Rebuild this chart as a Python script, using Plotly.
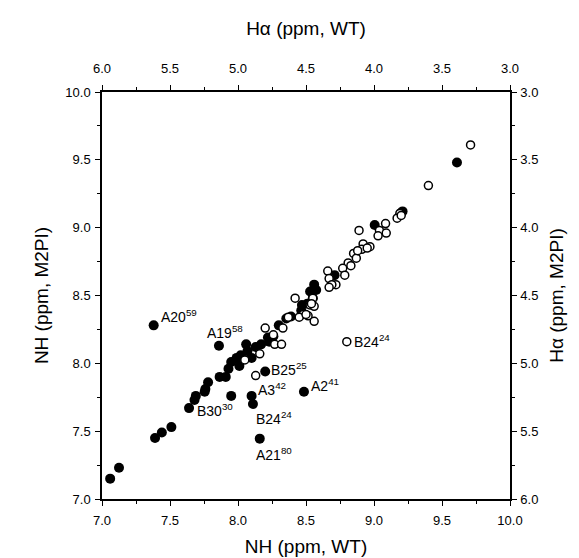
import plotly.graph_objects as go

# NH chemical shifts (filled circles): WT vs M2PI
nh_wt = [7.06, 7.125, 7.39, 7.44, 7.51, 7.38, 7.64, 7.68, 7.69, 7.755, 7.76, 7.78,
         7.865, 7.91, 7.86, 7.93, 7.95, 7.99, 8.01, 7.95, 8.06, 8.07, 8.10, 8.17,
         8.13, 8.22, 8.23, 8.20, 8.10, 8.11, 8.16, 8.485, 8.30, 8.355, 8.39, 8.465,
         8.47, 8.51, 8.55, 8.53, 8.56, 8.575, 8.71, 9.005, 9.20, 9.21, 9.61, 8.02, 8.26]
nh_m2pi = [7.15, 7.23, 7.45, 7.49, 7.53, 8.28, 7.67, 7.73, 7.76, 7.79, 7.81, 7.86,
           7.90, 7.90, 8.13, 7.96, 8.01, 8.04, 7.98, 7.76, 8.14, 8.09, 8.04, 8.14,
           8.12, 8.19, 8.16, 7.94, 7.76, 7.70, 7.445, 7.79, 8.28, 8.33, 8.345, 8.39,
           8.43, 8.44, 8.48, 8.53, 8.58, 8.54, 8.65, 9.02, 9.11, 9.12, 9.48, 8.06, 8.20]

# H-alpha chemical shifts (open circles): WT vs M2PI
ha_wt = [3.29, 3.60, 3.81, 3.83, 3.80, 3.915, 3.96, 3.91, 3.97, 4.11, 4.03, 4.08,
         4.09, 4.15, 4.13, 4.19, 4.17, 4.23, 4.215, 4.34, 4.33, 4.28, 4.31, 4.33,
         4.45, 4.58, 4.47, 4.44, 4.52, 4.485, 4.44, 4.55, 4.63, 4.67, 4.80, 4.74,
         4.73, 4.68, 4.20, 4.84, 4.87, 4.95, 4.46, 4.50, 4.05, 4.12]
ha_m2pi = [3.39, 3.69, 3.895, 3.93, 3.91, 3.97, 4.02, 4.04, 4.06, 4.02, 4.14, 4.12,
           4.16, 4.19, 4.225, 4.26, 4.28, 4.30, 4.35, 4.32, 4.375, 4.42, 4.42, 4.44,
           4.52, 4.52, 4.57, 4.58, 4.64, 4.65, 4.69, 4.66, 4.66, 4.74, 4.74, 4.79,
           4.86, 4.86, 4.84, 4.93, 5.09, 4.975, 4.56, 4.64, 4.15, 4.17]

# Labelled NH residues
nh_labels = ["A20<sup>59</sup>", "A19<sup>58</sup>", "B25<sup>25</sup>", "A3<sup>42</sup>",
             "A2<sup>41</sup>", "B30<sup>30</sup>", "B24<sup>24</sup>", "A21<sup>80</sup>"]
nh_label_x = [7.38, 7.86, 8.20, 8.10, 8.485, 7.95, 8.11, 8.16]
nh_label_y = [8.28, 8.13, 7.94, 7.76, 7.79, 7.76, 7.70, 7.445]
# Labelled H-alpha residue
ha_labels = ["B24<sup>24</sup>"]
ha_label_x = [4.20]
ha_label_y = [4.84]

FONT = "Liberation Sans, Arial, sans-serif"

fig = go.Figure()
fig.add_trace(go.Scatter(
    x=nh_wt, y=nh_m2pi, mode="markers", xaxis="x", yaxis="y",
    marker=dict(size=10, color="black", line=dict(width=0)), showlegend=False))
fig.add_trace(go.Scatter(
    x=ha_wt, y=ha_m2pi, mode="markers", xaxis="x2", yaxis="y2",
    marker=dict(size=8, color="white", line=dict(width=1.5, color="black")),
    showlegend=False))

# label placements: (xanchor, xshift, yshift)
placement = [("left", 5, 9), ("center", 6, 14), ("left", 4, 2), ("left", 4, 7),
             ("left", 5, 7), ("right", 4, -14), ("left", 1, -14), ("left", -6, -15)]
ann = []
for t, x, y, (xa, xs, ys) in zip(nh_labels, nh_label_x, nh_label_y, placement):
    ann.append(dict(x=x, y=y, xref="x", yref="y", text=t, showarrow=False,
                    xanchor=xa, yanchor="middle", xshift=xs, yshift=ys,
                    font=dict(size=14, color="black", family=FONT)))
for t, x, y in zip(ha_labels, ha_label_x, ha_label_y):
    ann.append(dict(x=x, y=y, xref="x2", yref="y2", text=t, showarrow=False,
                    xanchor="left", yanchor="middle", xshift=5, yshift=1,
                    font=dict(size=14, color="black", family=FONT)))


def axis_style(standoff):
    return dict(
        showgrid=False, zeroline=False, showline=True, linecolor="black", linewidth=1.5,
        ticks="outside", ticklen=5, tickwidth=1.3, tickcolor="black", dtick=0.5,
        tickformat=".1f", tickfont=dict(size=13, color="black", family=FONT),
        ticklabelstandoff=standoff,
        minor=dict(ticks="outside", ticklen=3, tickwidth=1, tickcolor="black",
                   dtick=0.25, showgrid=False),
    )


title_font = dict(size=19, color="black", family=FONT)

fig.update_layout(
    width=579, height=558,
    margin=dict(l=94, r=77, t=84, b=61),
    paper_bgcolor="white", plot_bgcolor="white",
    font=dict(family=FONT, color="black"),
    xaxis=dict(range=[7.0, 10.0], tick0=7.0, side="bottom", anchor="y",
               title=dict(text="NH (ppm, WT)", font=title_font, standoff=12),
               **axis_style(4)),
    yaxis=dict(range=[7.0, 10.0], tick0=7.0, side="left", anchor="x",
               title=dict(text="NH (ppm, M2PI)", font=title_font, standoff=12),
               **axis_style(2)),
    xaxis2=dict(range=[6.0, 3.0], tick0=3.0, side="top", anchor="y", overlaying="x",
                title=dict(text="H\u03b1 (ppm, WT)", font=title_font, standoff=20),
                **axis_style(7)),
    yaxis2=dict(range=[6.0, 3.0], tick0=3.0, side="right", anchor="x", overlaying="y",
                title=dict(text="H\u03b1 (ppm, M2PI)", font=title_font, standoff=12),
                **axis_style(1)),
    annotations=ann,
)

fig.write_html("out.html")
